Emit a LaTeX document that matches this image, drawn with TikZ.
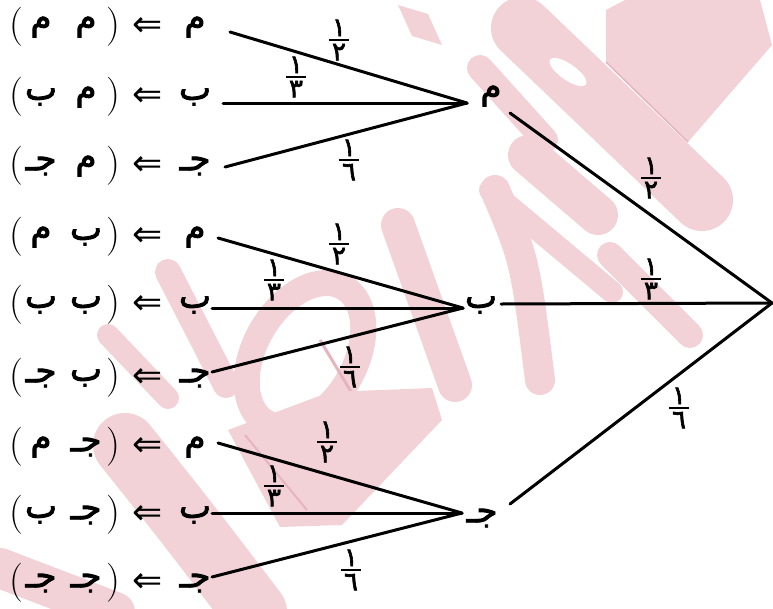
\documentclass[tikz,border=0pt]{standalone}
\usepackage{amsmath}
\usepackage{fontspec}
\newfontfamily\arabicfont[Script=Arabic,FakeBold=2.5]{DejaVu Sans}
\newfontfamily\fracfont[Script=Arabic,FakeBold=2.5]{DejaVu Sans}
\newfontfamily\symbfont{DejaVu Sans}
\definecolor{wm}{RGB}{242,210,214}
\definecolor{wmd}{RGB}{230,180,190}
\tikzset{
  ltr/.style={font=\arabicfont\fontsize{34}{40}\selectfont, inner sep=0pt},
  paren/.style={font=\fontsize{39}{44}\selectfont, inner sep=0pt},
  arr/.style={font=\symbfont\fontsize{36}{40}\selectfont, inner sep=0pt},
  frc/.style={font=\fontsize{26}{30}\selectfont, inner sep=0pt},
  branch/.style={line width=3pt, line cap=round},
  wmf/.style={fill=wm, draw=none},
  wms/.style={draw=wm, line cap=round},
}
\newcommand\afr[2]{$\genfrac{}{}{2.6pt}{}{\hbox to 20pt{\hss\fracfont #1\hss}}{\hbox to 20pt{\hss\fracfont #2\hss}}$}
\newcommand\leafrow[5]{%
  \node[paren] (lp#1) at (16,#2) {(};
  \node[ltr] (a#1) at (41,#2) {#3};
  \node[ltr] (b#1) at (86,#2) {#4};
  \node[paren] (rp#1) at (113,#2) {)};
  \node[arr] (ar#1) at (148,#2) {⇐};
  \node[ltr] (c#1) at (195,#2) {#5};
}
\begin{document}
\begin{tikzpicture}[x=1pt,y=-1pt]
\useasboundingbox (0,0) rectangle (773,608);
% ---------- watermark ----------
\fill[wmf] (398,5) -- (428,14) -- (442,45) -- (412,36) -- cycle;
\fill[wmf] (625,0) -- (760,0) -- (772,45) -- (688,142) -- (606,62) -- (606,10) -- cycle;
\draw[wms, line width=62pt] (522,28) -- (702,200);
\fill[white, rotate around={-35:(568,72)}] (568,72) ellipse [x radius=22, y radius=8];
\draw[wmd, line width=1.5pt] (606,62) -- (688,142);
\draw[wms, line width=26pt] (480,68) -- (545,140);
\draw[wms, line width=40pt] (528,155) -- (598,215);
\draw[wms, line width=22pt] (490,190) -- (612,292);
\draw[wms, line width=30pt] (495,190) .. controls (525,260) .. (540,380);
\draw[wms, line width=26pt] (610,255) -- (690,335);
\draw[wms, line width=34pt] (398,225) -- (455,385);
\draw[wms, line width=26pt, rotate around={-30:(305,355)}] (305,355) ellipse [x radius=50, y radius=78];
\draw[wms, line width=26pt] (168,272) -- (226,385);
\draw[wms, line width=22pt] (108,335) -- (168,398);
\draw[wmd, line width=3pt] (320,340) -- (365,415);
\fill[wmf] (228,430) -- (330,392) -- (432,388) -- (442,420) -- (342,525) -- (280,527) -- cycle;
\draw[wmd, line width=2pt] (245,435) -- (307,510);
\draw[wms, line width=64pt] (125,445) .. controls (185,520) .. (255,612);
\draw[wms, line width=40pt] (0,568) -- (115,612);
% ---------- leaves ----------
\leafrow{1}{27}{م}{م}{م}
\leafrow{2}{97}{ب}{م}{ب}
\leafrow{3}{166}{جـ}{م}{جـ}
\leafrow{4}{237}{م}{ب}{م}
\leafrow{5}{305}{ب}{ب}{ب}
\leafrow{6}{378}{جـ}{ب}{جـ}
\leafrow{7}{447}{م}{جـ}{م}
\leafrow{8}{515}{ب}{جـ}{ب}
\leafrow{9}{583}{جـ}{جـ}{جـ}
% ---------- second level ----------
\node[ltr] (m) at (491,96) {م};
\node[ltr] (b) at (481,305) {ب};
\node[ltr] (j) at (482,518) {جـ};
% ---------- connection points ----------
\coordinate (cm) at (467,103);
\coordinate (cb) at (463,308);
\coordinate (cj) at (462,513);
\coordinate (root) at (772,303);
\coordinate (s1) at (230,32);
\coordinate (s2) at (223,103);
\coordinate (s3) at (225,167);
\coordinate (s4) at (218,238);
\coordinate (s5) at (212,308);
\coordinate (s6) at (212,372);
\coordinate (s7) at (218,443);
\coordinate (s8) at (212,513);
\coordinate (s9) at (212,577);
\coordinate (t1) at (510,113);
\coordinate (t2) at (501,304);
\coordinate (t3) at (510,504);
% ---------- branches ----------
\foreach \s in {s1,s2,s3} \draw[branch] (\s) -- (cm);
\foreach \s in {s4,s5,s6} \draw[branch] (\s) -- (cb);
\foreach \s in {s7,s8,s9} \draw[branch] (\s) -- (cj);
\foreach \t in {t1,t2,t3} \draw[branch] (\t) -- (root);
% ---------- probabilities ----------
\node[frc] (p1) at (339,40) {\afr{١}{٢}};
\node[frc] (p2) at (296,77) {\afr{١}{٣}};
\node[frc] (p3) at (349,160) {\afr{١}{٦}};
\node[frc] (p4) at (339,244) {\afr{١}{٢}};
\node[frc] (p5) at (274,280) {\afr{١}{٣}};
\node[frc] (p6) at (350,367) {\afr{١}{٦}};
\node[frc] (p7) at (327,442) {\afr{١}{٢}};
\node[frc] (p8) at (274,486) {\afr{١}{٣}};
\node[frc] (p9) at (351,570) {\afr{١}{٦}};
\node[frc] (q1) at (651,178) {\afr{١}{٢}};
\node[frc] (q2) at (651,279) {\afr{١}{٣}};
\node[frc] (q3) at (679,408) {\afr{١}{٦}};
\end{tikzpicture}
\end{document}
